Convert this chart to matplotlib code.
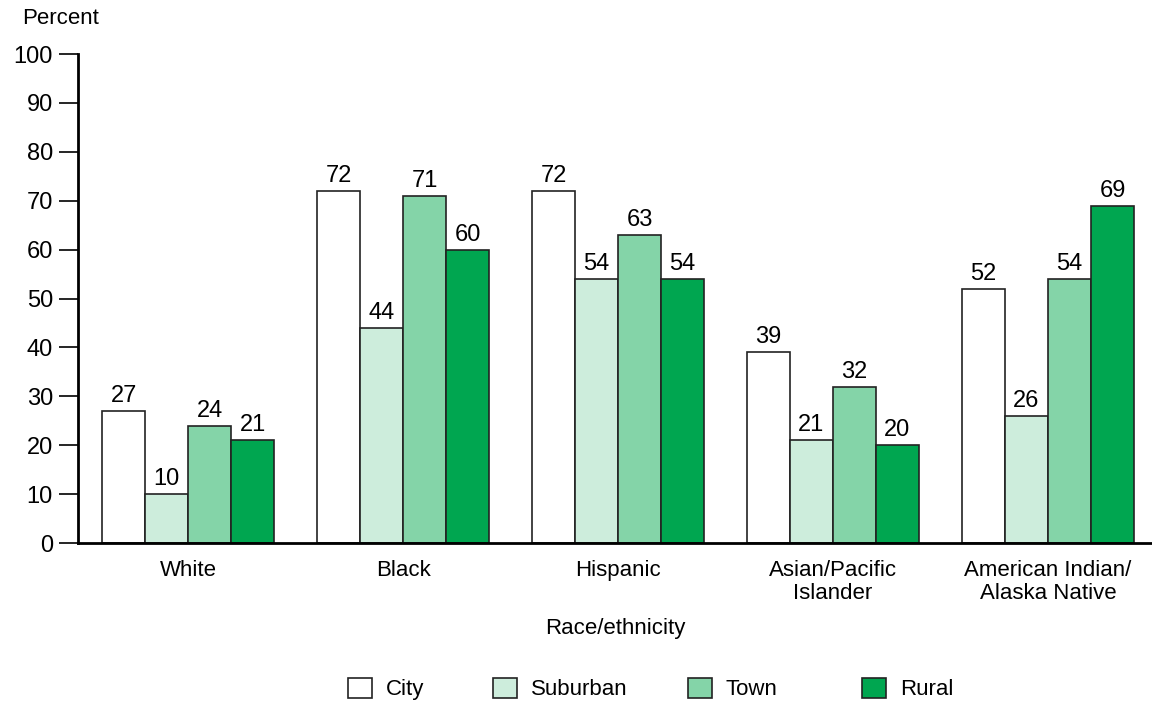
import numpy as np
import matplotlib.pyplot as plt
from matplotlib.patches import Patch

plt.rcParams['font.family'] = ['Liberation Sans', 'DejaVu Sans']

groups = ['White', 'Black', 'Hispanic', 'Asian/Pacific\nIslander', 'American Indian/\nAlaska Native']
series = ['City', 'Suburban', 'Town', 'Rural']
city = [27, 72, 72, 39, 52]
suburban = [10, 44, 54, 21, 26]
town = [24, 71, 63, 32, 54]
rural = [21, 60, 54, 20, 69]
colors = ['#ffffff', '#cdeddc', '#84d4a8', '#00a650']

fig = plt.figure(figsize=(11.52, 7.04), dpi=100)
ax = fig.add_axes([78 / 1152, 1 - 543 / 704, 1 - 78 / 1152, (543 - 54) / 704])

x = np.arange(len(groups))
w = 0.2
for i, (vals, c, name) in enumerate(zip([city, suburban, town, rural], colors, series)):
    pos = x + (i - 1.5) * w
    bars = ax.bar(pos, vals, w, color=c, edgecolor='#222222', linewidth=1.2, label=name)
    for b, v in zip(bars, vals):
        ax.text(b.get_x() + b.get_width() / 2, v + 0.8, str(v), ha='center', va='bottom', fontsize=17)

ax.set_xlim(-0.512, 4.484)
ax.set_ylim(0, 100)
ax.set_yticks(range(0, 101, 10))
ax.set_xticks(x)
ax.set_xticklabels(groups, fontsize=16, linespacing=1.15)
ax.tick_params(axis='y', labelsize=17, length=14, width=1.2, pad=4)
ax.tick_params(axis='x', length=0, pad=12)
for s in ['top', 'right']:
    ax.spines[s].set_visible(False)
ax.spines['left'].set_linewidth(2)
ax.spines['bottom'].set_linewidth(2)
ax.set_xlabel('Race/ethnicity', fontsize=16, labelpad=10)
fig.text(22 / 1152, 1 - 18 / 704, 'Percent', fontsize=16, va='center', ha='left')

# legend items placed one by one, spacing in the original is uneven
legend_x = [348, 493, 688, 862]
for name, c, lx in zip(series, colors, legend_x):
    h = Patch(facecolor=c, edgecolor='#222222', linewidth=1.2, label=name)
    fig.legend(handles=[h], loc='center left', bbox_to_anchor=(lx / 1152, 1 - 689 / 704),
               frameon=False, fontsize=16, handlelength=1.1, handleheight=1.0,
               handletextpad=0.6, borderpad=0, borderaxespad=0)

fig.savefig('out.png', dpi=100)
plt.close()
